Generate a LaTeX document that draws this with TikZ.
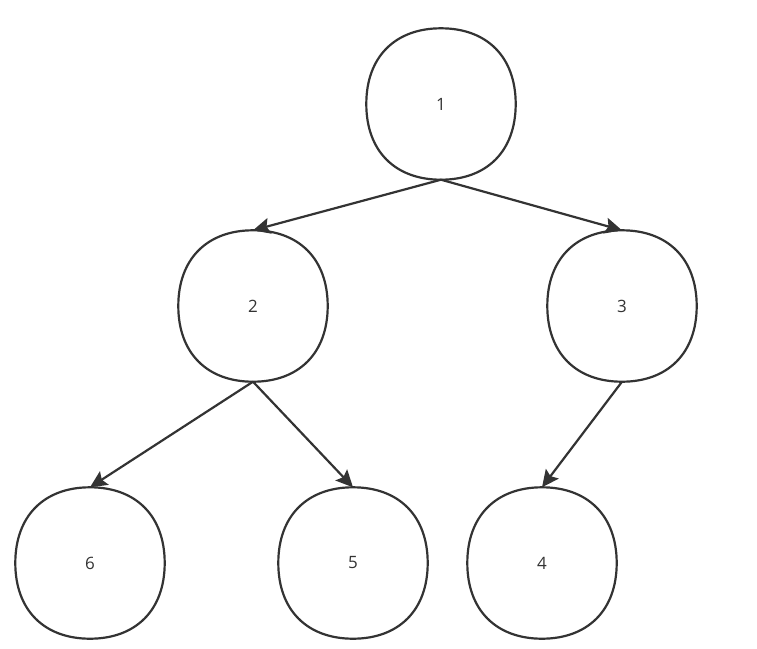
\documentclass[tikz,border=0pt]{standalone}
\usepackage{fontspec}
\setmainfont{Open Sans}
\usetikzlibrary{arrows.meta}
\definecolor{ink}{HTML}{333333}
\newcommand{\sqshape}[1]{%
  \draw[ink,line width=2.2pt] (#1.north)
    .. controls +(46,0) and +(0,-47) .. (#1.east)
    .. controls +(0,47) and +(46,0) .. (#1.south)
    .. controls +(-46,0) and +(0,47) .. (#1.west)
    .. controls +(0,-47) and +(-46,0) .. (#1.north) -- cycle;}
\begin{document}
\begin{tikzpicture}[x=1pt,y=-1pt,
  tnode/.style={minimum width=149pt,minimum height=151pt,inner sep=0pt,font=\fontsize{17}{20}\selectfont,text=ink},
  edge/.style={draw=ink,line width=2.2pt,-{Stealth[length=17pt,width=16pt,inset=3pt]}}]
\useasboundingbox (0,0) rectangle (757,648);
\node[tnode] (n1) at (441,104) {1};
\node[tnode] (n2) at (253,306) {2};
\node[tnode] (n3) at (622,306) {3};
\node[tnode] (n6) at (90,563) {6};
\node[tnode] (n5) at (353,563) {5};
\node[tnode] (n4) at (542,563) {4};
\foreach \n in {n1,n2,n3,n4,n5,n6} {\sqshape{\n}}
\draw[edge] (n1.south) -- (n2.north);
\draw[edge] (n1.south) -- (n3.north);
\draw[edge] (n2.south) -- (n6.north);
\draw[edge] (n2.south) -- (n5.north);
\draw[edge] (n3.south) -- (n4.north);
\end{tikzpicture}
\end{document}
